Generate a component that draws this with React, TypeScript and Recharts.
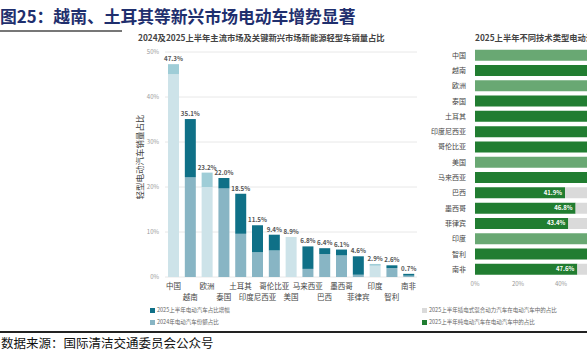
import React from "react";
import { BarChart, Bar, XAxis, YAxis, CartesianGrid, Cell, LabelList } from "recharts";

const categories = ["中国", "越南", "欧洲", "泰国", "土耳其", "印度尼西亚", "哥伦比亚", "美国", "马来西亚", "巴西", "墨西哥", "菲律宾", "印度", "智利", "南非"];
const total2025 = [47.3, 35.1, 23.2, 22.0, 18.5, 11.5, 9.4, 8.9, 6.8, 6.4, 6.1, 4.6, 2.9, 2.6, 0.7];
const share2024 = [45.1, 22.2, 20.0, 19.7, 9.6, 5.5, 5.9, 8.9, 1.8, 5.1, 4.8, 0.5, 2.5, 2.0, 0.3];
const mainstream = ["中国", "欧洲", "美国", "印度"];
const bevShare = [64, 99, 65, 84, 92, 88, 72, 78, 90, 41.9, 46.8, 43.4, 94, 69, 47.6];
const yTicks = [0, 10, 20, 30, 40, 50];
const xTicksRight = [0, 20, 40, 60, 80, 100];

const leftData = categories.map((c, i) => ({
  name: c,
  base: share2024[i],
  inc: +(total2025[i] - share2024[i]).toFixed(1),
  total: total2025[i],
}));
const rightData = categories.map((c, i) => ({
  name: c,
  bev: bevShare[i],
  phev: +(100 - bevShare[i]).toFixed(1),
}));

const FONT = "'Noto Sans CJK SC', 'Noto Sans', sans-serif";
const DARK = "#0f7087";
const MID = "#88b5c4";
const LIGHT_BASE = "#cde3e9";
const LIGHT_INC = "#9fcdd7";
const GREEN = "#217d31";
const GREEN_LIGHT = "#69a873";
const GREY = "#dadada";

const XTickLeft = (props: any) => {
  const { x, y, payload } = props;
  const idx = categories.indexOf(payload.value);
  const dy = idx % 2 === 1 ? 15 : 3.5;
  return (
    <text x={x} y={y + dy} textAnchor="middle" fontSize={7.5} fill="#444" fontFamily={FONT}>
      {payload.value}
    </text>
  );
};

const YTickLeft = (props: any) => {
  const { x, y, payload } = props;
  return (
    <text x={x} y={y + 2} textAnchor="end" fontSize={6} fill="#999" fontFamily={FONT}>
      {payload.value + "%"}
    </text>
  );
};

const YTickRight = (props: any) => {
  const { x, y, payload } = props;
  return (
    <text x={x} y={y + 2.5} textAnchor="end" fontSize={7} fill="#444" fontFamily={FONT}>
      {payload.value}
    </text>
  );
};

const XTickRight = (props: any) => {
  const { x, y, payload } = props;
  return (
    <text x={x} y={y + 0.5} textAnchor="middle" fontSize={6} fill="#999" fontFamily={FONT}>
      {payload.value + "%"}
    </text>
  );
};

const TopLabel = (props: any) => {
  const { x, y, width, value } = props;
  return (
    <text x={x + width / 2} y={y - 3} textAnchor="middle" fontSize={6.2} fontWeight={700} fill="#555" fontFamily={FONT}>
      {Number(value).toFixed(1) + "%"}
    </text>
  );
};

const InsideLabel = (props: any) => {
  const { x, y, width, height, value } = props;
  return (
    <text x={x + width - 3} y={y + height / 2 + 2} textAnchor="end" fontSize={6} fontWeight={700} fill="#fff" fontFamily={FONT}>
      {Number(value).toFixed(1) + "%"}
    </text>
  );
};

const Sq = ({ color }: { color: string }) => (
  <span style={{ display: "inline-block", width: 5, height: 5, background: color, marginRight: 2, verticalAlign: "middle" }} />
);

const legendRow = (left: number, top: number, color: string, text: string) => (
  <div style={{ position: "absolute", left, top, fontSize: 5.5, color: "#666", whiteSpace: "nowrap", lineHeight: "7px", height: 7 }}>
    <Sq color={color} />
    {text}
  </div>
);

export default function App() {
  return (
    <div style={{ position: "absolute", left: 0, top: 0, width: 587, height: 352, overflow: "hidden", background: "#fff", fontFamily: FONT }}>
      <div style={{ position: "absolute", left: 0, top: 5, fontSize: 16.8, fontWeight: 700, color: "#1f2f6e", whiteSpace: "nowrap", lineHeight: "22px" }}>
        图25：越南、土耳其等新兴市场电动车增势显著
      </div>
      <div style={{ position: "absolute", left: 0, top: 30, width: 122, height: 1.5, background: "#777" }} />

      <div style={{ position: "absolute", left: 138, top: 32, fontSize: 8.3, fontWeight: 700, color: "#444", whiteSpace: "nowrap", lineHeight: "10px" }}>
        2024及2025上半年主流市场及关键新兴市场新能源轻型车销量占比
      </div>
      <div style={{ position: "absolute", left: 475, top: 32, fontSize: 8.3, fontWeight: 700, color: "#444", whiteSpace: "nowrap", lineHeight: "10px" }}>
        2025上半年不同技术类型电动汽车销量占比
      </div>

      <div
        style={{
          position: "absolute",
          left: 139 - 60,
          top: 157 - 6,
          width: 120,
          height: 12,
          lineHeight: "12px",
          textAlign: "center",
          fontSize: 8.5,
          color: "#444",
          transform: "rotate(-90deg)",
          whiteSpace: "nowrap",
        }}
      >
        轻型电动汽车销量占比
      </div>

      <div style={{ position: "absolute", left: 100, top: 30 }}>
        <BarChart width={330} height={300} data={leftData} margin={{ top: 22, right: 13, bottom: 23, left: 0 }} barCategoryGap="18%">
          <CartesianGrid vertical={false} stroke="#e8e8e8" />
          <XAxis dataKey="name" interval={0} tick={<XTickLeft />} axisLine={false} tickLine={false} height={30} />
          <XAxis xAxisId="lbl" dataKey="name" hide />
          <YAxis domain={[0, 50]} ticks={yTicks} tick={<YTickLeft />} axisLine={false} tickLine={false} width={65} tickMargin={0} />
          <Bar dataKey="base" stackId="a" isAnimationActive={false}>
            {leftData.map((d) => (
              <Cell key={d.name} fill={mainstream.includes(d.name) ? LIGHT_BASE : MID} />
            ))}
          </Bar>
          <Bar dataKey="inc" stackId="a" isAnimationActive={false}>
            {leftData.map((d) => (
              <Cell key={d.name} fill={mainstream.includes(d.name) ? LIGHT_INC : DARK} />
            ))}
          </Bar>
          <Bar xAxisId="lbl" dataKey="total" fill="none" fillOpacity={0} isAnimationActive={false}>
            <LabelList dataKey="total" content={<TopLabel />} />
          </Bar>
        </BarChart>
      </div>

      <div style={{ position: "absolute", left: 420, top: 40 }}>
        <BarChart layout="vertical" width={285} height={260} data={rightData} margin={{ top: 7.5, right: 15, bottom: 3, left: 0 }} barCategoryGap="14%">
          <XAxis type="number" domain={[0, 100]} ticks={xTicksRight} tick={<XTickRight />} axisLine={false} tickLine={false} height={20} />
          <YAxis type="category" dataKey="name" interval={0} tick={<YTickRight />} axisLine={false} tickLine={false} width={55} tickMargin={3} />
          <Bar dataKey="bev" stackId="b" isAnimationActive={false}>
            {rightData.map((d) => (
              <Cell key={d.name} fill={mainstream.includes(d.name) ? GREEN_LIGHT : GREEN} />
            ))}
            <LabelList dataKey="bev" content={<InsideLabel />} />
          </Bar>
          <Bar dataKey="phev" stackId="b" fill={GREY} isAnimationActive={false} />
        </BarChart>
      </div>

      {legendRow(150, 307, DARK, "2025上半年电动汽车占比增幅")}
      {legendRow(150, 319, MID, "2024年电动汽车份额占比")}
      {legendRow(422, 307, GREY, "2025上半年插电式混合动力汽车在电动汽车中的占比")}
      {legendRow(422, 319, GREEN, "2025上半年纯电动汽车在电动汽车中的占比")}

      <div style={{ position: "absolute", left: 0, top: 331, width: 587, height: 1.5, background: "#222" }} />
      <div style={{ position: "absolute", left: 1, top: 335, fontSize: 12.5, color: "#111", whiteSpace: "nowrap", lineHeight: "16px" }}>
        数据来源：国际清洁交通委员会公众号
      </div>
    </div>
  );
}
